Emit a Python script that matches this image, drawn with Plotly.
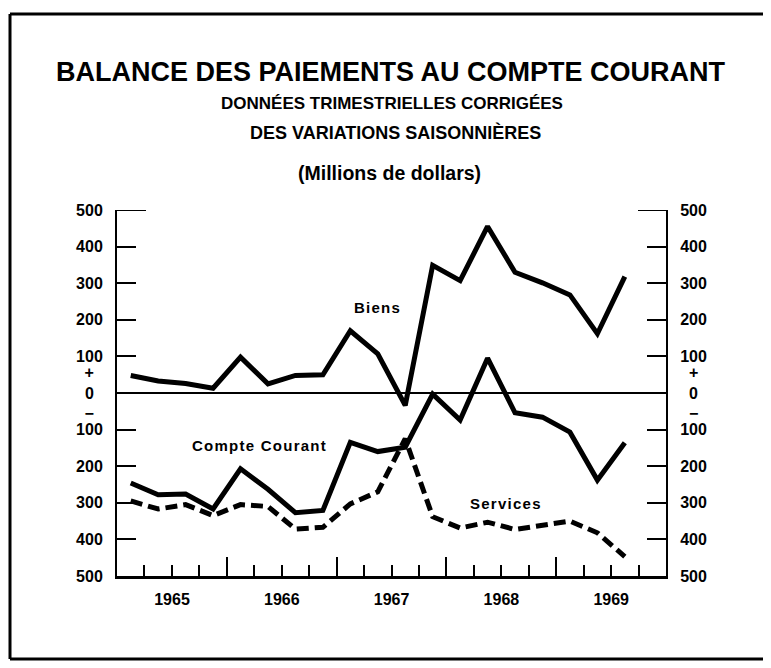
import plotly.graph_objects as go

# ---------------- data ----------------
trimestres = ["1965-T1", "1965-T2", "1965-T3", "1965-T4",
              "1966-T1", "1966-T2", "1966-T3", "1966-T4",
              "1967-T1", "1967-T2", "1967-T3", "1967-T4",
              "1968-T1", "1968-T2", "1968-T3", "1968-T4",
              "1969-T1", "1969-T2", "1969-T3"]
biens = [48, 33, 26, 13, 98, 25, 48, 50, 170, 107, -34, 349, 307, 455, 330, 301, 268, 162, 318]
compte_courant = [-246, -278, -276, -317, -207, -263, -327, -321, -135, -160, -148, -3, -74, 95, -54, -66, -107, -238, -136]
services = [-295, -317, -305, -335, -305, -310, -372, -367, -303, -270, -125, -338, -369, -353, -373, -361, -350, -382, -447]

annees = ["1965", "1966", "1967", "1968", "1969"]
y_ticks = [-500, -400, -300, -200, -100, 0, 100, 200, 300, 400, 500]

# quarter -> decimal position (middle of the quarter)
x = [int(t[:4]) + (int(t[-1]) - 0.5) / 4 for t in trimestres]
x_years = [int(a) for a in annees]

# ---------------- layout geometry ----------------
OFF = 8  # page body margin
W, H = 771 - OFF, 668 - OFF
L, R, T, B = 117 - OFF, 666 - OFF, 210 - OFF, 576 - OFF


def pxx(v):
    return (v - OFF - L) / (R - L)


def pyy(v):
    return (B - (v - OFF)) / (B - T)


FONT = "Liberation Sans, Arial, sans-serif"
FS = "\u2007"  # figure space
HS = "\u200a"  # hair space


def spaced(s):
    return HS.join(list(s))


left_text = []
right_text = []
for v in y_ticks:
    if v == 0:
        left_text.append("+" + FS + "<br>0" + FS + "<br>\u2212" + FS)
        right_text.append(FS + "+<br>" + FS + "0<br>" + FS + "\u2212")
    else:
        left_text.append(str(abs(v)))
        right_text.append(str(abs(v)))

fig = go.Figure()
fig.add_trace(go.Scatter(x=x, y=biens, mode="lines", name="Biens",
                         line=dict(color="black", width=5), showlegend=False))
fig.add_trace(go.Scatter(x=x, y=compte_courant, mode="lines", name="Compte Courant",
                         line=dict(color="black", width=5), showlegend=False))
fig.add_trace(go.Scatter(x=x, y=services, mode="lines", name="Services", yaxis="y2",
                         line=dict(color="black", width=5, dash="12px,6px"), showlegend=False))

axis_font = dict(family=FONT, size=16, color="black", weight="bold")

fig.update_layout(
    width=W, height=H,
    margin=dict(l=L, r=W - R, t=T, b=H - B, pad=0),
    paper_bgcolor="white", plot_bgcolor="white",
    font=dict(family=FONT, color="black"),
    xaxis=dict(range=[1965, 1970], tickmode="array", tickvals=x_years, ticktext=annees,
               ticks="inside", ticklen=19, tickwidth=2, tickcolor="black",
               ticklabelshift=55, ticklabelstandoff=7,
               minor=dict(dtick=0.25, tick0=1965, ticks="inside", ticklen=11,
                          tickwidth=2, tickcolor="black", showgrid=False),
               showline=True, linecolor="black", linewidth=2.5,
               showgrid=False, zeroline=False, tickfont=axis_font, fixedrange=True),
    yaxis=dict(range=[-500, 500], tickmode="array", tickvals=y_ticks, ticktext=left_text,
               ticks="inside", ticklen=19, tickwidth=2, tickcolor="black",
               ticklabelstandoff=9,
               showline=True, linecolor="black", linewidth=2,
               showgrid=False, zeroline=True, zerolinecolor="black", zerolinewidth=1.5,
               tickfont=axis_font, fixedrange=True),
    yaxis2=dict(range=[-500, 500], overlaying="y", side="right", tickmode="array",
                tickvals=y_ticks, ticktext=right_text,
                ticks="inside", ticklen=19, tickwidth=2, tickcolor="black",
                ticklabelstandoff=9,
                showline=True, linecolor="black", linewidth=2,
                showgrid=False, zeroline=False, tickfont=axis_font, fixedrange=True),
)

shapes = []
# longer stubs at the top (500) of each vertical axis
shapes.append(dict(type="line", xref="paper", yref="y", x0=0, x1=29 / (R - L), y0=500, y1=500,
                   line=dict(color="black", width=2)))
shapes.append(dict(type="line", xref="paper", yref="y", x0=1 - 28 / (R - L), x1=1, y0=500, y1=500,
                   line=dict(color="black", width=2)))
# outer frame (page pixel coordinates)
fx0, fx1, fy0, fy1 = 10, 790, 14, 659
shapes.append(dict(type="line", xref="paper", yref="paper", x0=pxx(fx0), x1=pxx(fx1),
                   y0=pyy(fy0), y1=pyy(fy0), line=dict(color="black", width=3)))
shapes.append(dict(type="line", xref="paper", yref="paper", x0=pxx(fx0), x1=pxx(fx0),
                   y0=pyy(fy0), y1=pyy(fy1), line=dict(color="black", width=3)))
shapes.append(dict(type="line", xref="paper", yref="paper", x0=pxx(fx0), x1=pxx(fx1),
                   y0=pyy(fy1), y1=pyy(fy1), line=dict(color="black", width=3)))
fig.update_layout(shapes=shapes)

ann = []


def add_text(text, cx, cy, size):
    ann.append(dict(text=text, xref="paper", yref="paper", x=pxx(cx), y=pyy(cy),
                    xanchor="center", yanchor="middle", showarrow=False,
                    font=dict(family=FONT, size=size, color="black")))


add_text("<b>BALANCE DES PAIEMENTS AU COMPTE COURANT</b>", 391, 72, 27)
add_text("<b>DONNÉES TRIMESTRIELLES CORRIGÉES</b>", 392, 104, 17)
add_text("<b>DES VARIATIONS SAISONNIÈRES</b>", 395, 132, 18)
add_text("<b>(Millions de dollars)</b>", 389, 173, 19.5)

# series labels (data coordinates)
series_labels = [("Biens", 1967.37, 233), ("Compte Courant", 1966.29, -143), ("Services", 1968.54, -303)]
for txt, lx, ly in series_labels:
    ann.append(dict(text="<b>" + spaced(txt) + "</b>", xref="x", yref="y", x=lx, y=ly,
                    xanchor="center", yanchor="middle", showarrow=False,
                    font=dict(family=FONT, size=15, color="black")))

fig.update_layout(annotations=ann)

fig.write_html("out.html")
